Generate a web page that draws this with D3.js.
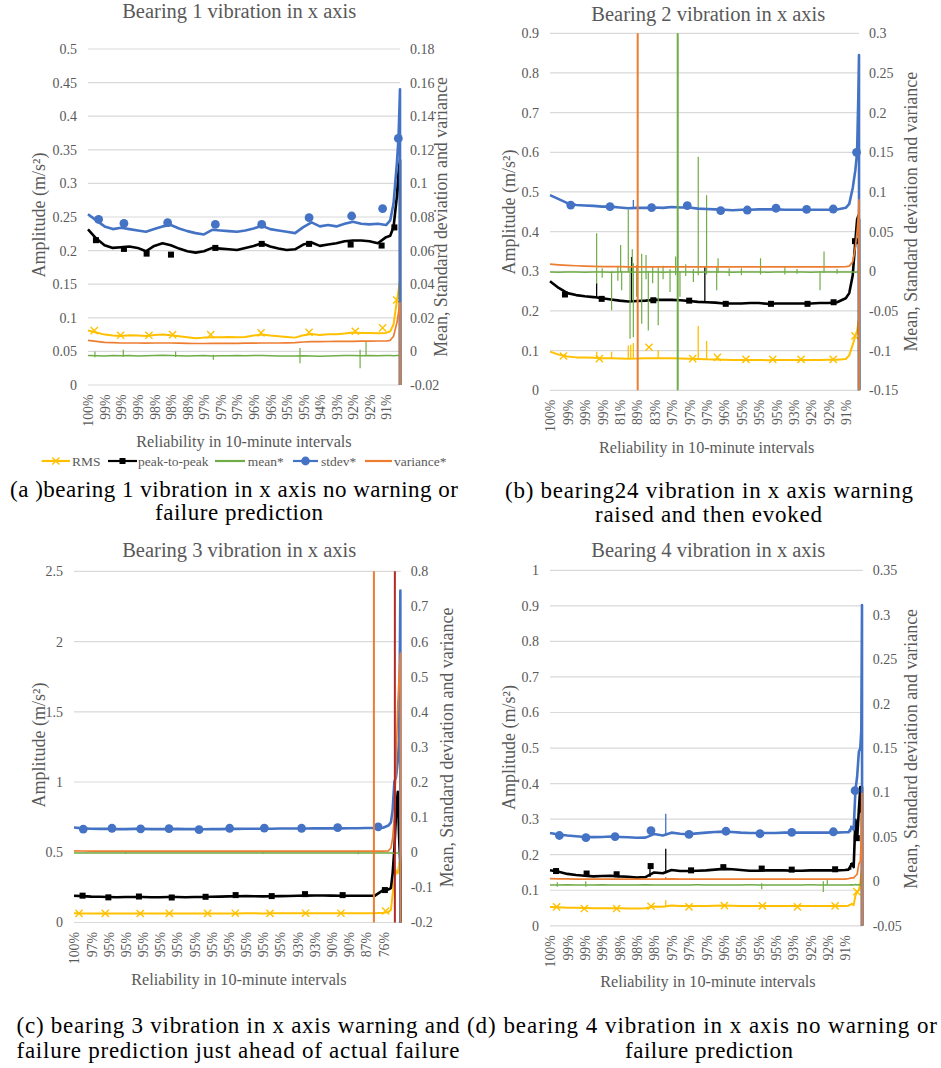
<!DOCTYPE html>
<html><head><meta charset="utf-8">
<script src="https://cdn.jsdelivr.net/npm/d3@7"></script>
<style>html,body{margin:0;padding:0;background:#fff;}svg{display:block;}svg text{font-family:'Liberation Serif','Times New Roman',Times,serif;}</style>
</head><body>
<script>
// ---------------- DATA ----------------
const seriesNames = ['RMS','peak-to-peak','mean*','stdev*','variance*'];

// Panel A : Bearing 1
const labelsA = ['100%','99%','99%','99%','98%','98%','98%','97%','97%','97%','96%','96%','95%','95%','94%','93%','92%','92%','91%'];
const ticksLeftA = [0,0.05,0.1,0.15,0.2,0.25,0.3,0.35,0.4,0.45,0.5];
const ticksRightA = [-0.02,0,0.02,0.04,0.06,0.08,0.1,0.12,0.14,0.16,0.18];
const xsA = [0,0.5,1,1.5,2,2.5,3,3.5,4,4.5,5,5.5,6,6.5,7,7.5,8,8.5,9,9.5,10,10.5,11,11.5,12,12.5,13,13.5,14,14.5,15,15.5,16,16.5,17,17.5,18,18.25,18.45,18.65,18.75,18.84,18.845];
const rmsA = [0.081,0.078,0.075,0.0735,0.073,0.074,0.0735,0.073,0.0745,0.075,0.074,0.0725,0.071,0.0695,0.0705,0.071,0.071,0.0715,0.071,0.0715,0.0735,0.075,0.0735,0.0725,0.0715,0.0705,0.074,0.076,0.0745,0.0755,0.0755,0.0765,0.078,0.0775,0.0775,0.077,0.0775,0.08,0.09,0.125,0.14,0.155,0];
const p2pA = [0.2315,0.218,0.208,0.204,0.205,0.206,0.204,0.199,0.207,0.211,0.208,0.203,0.199,0.197,0.199,0.204,0.203,0.202,0.201,0.204,0.207,0.211,0.206,0.203,0.201,0.202,0.209,0.212,0.207,0.209,0.211,0.214,0.215,0.215,0.214,0.211,0.22,0.222,0.235,0.28,0.316,0.335,0];
const meanA = [-0.0024,-0.0026,-0.0027,-0.0025,-0.0026,-0.0024,-0.0027,-0.0026,-0.0025,-0.0023,-0.0025,-0.0026,-0.0027,-0.0026,-0.0025,-0.0027,-0.0026,-0.0026,-0.0025,-0.0026,-0.0024,-0.0025,-0.0026,-0.0027,-0.0028,-0.0027,-0.0026,-0.0028,-0.0029,-0.0027,-0.0026,-0.0025,-0.0025,-0.0026,-0.0025,-0.0026,-0.0025,-0.0025,-0.0026,-0.0024,-0.0025,-0.0026,-0.0026];
const stdevA = [0.0816,0.078,0.0744,0.0728,0.0736,0.0728,0.072,0.0712,0.0728,0.0744,0.0752,0.0732,0.0716,0.0704,0.0696,0.0724,0.072,0.0716,0.0712,0.072,0.0732,0.0748,0.0728,0.072,0.0712,0.0704,0.074,0.0768,0.0744,0.0752,0.0744,0.076,0.0772,0.076,0.0756,0.076,0.0752,0.078,0.088,0.112,0.1268,0.156,-0.02];
const varA = [0.0066,0.006,0.0054,0.0052,0.005,0.005,0.005,0.0049,0.005,0.005,0.005,0.0049,0.0048,0.0047,0.0047,0.0048,0.0048,0.0048,0.0048,0.0049,0.0049,0.005,0.005,0.005,0.0051,0.0052,0.0056,0.0058,0.0058,0.0059,0.006,0.006,0.006,0.0061,0.0061,0.0062,0.0062,0.0066,0.009,0.017,0.023,0.029,-0.02];
const rmsMkA = [[0.38,0.081],[1.97,0.074],[3.68,0.074],[5.11,0.075],[7.41,0.075],[10.45,0.0775],[13.35,0.0785],[16.14,0.08],[17.79,0.085],[18.64,0.1265]];
const p2pMkA = [[0.48,0.2155],[2.17,0.2025],[3.54,0.1955],[5.01,0.194],[7.69,0.204],[10.49,0.21],[13.35,0.21],[15.86,0.209],[17.73,0.2075],[18.5,0.2345]];
const stdevMkA = [[0.64,0.0786],[2.17,0.0762],[4.81,0.0766],[7.69,0.0756],[10.49,0.0756],[13.35,0.0796],[15.92,0.0806],[17.79,0.085],[18.74,0.1268]];
const meanSpikesA = [[0.42,-0.0035,0.0],[2.13,-0.0032,0.001],[5.29,-0.0034,-0.0001],[7.57,-0.005,-0.002],[12.8,-0.007,0.002],[16.43,-0.01,0.001],[16.79,-0.0026,0.006]];

// Panel B : Bearing 2
const labelsB = ['100%','99%','99%','99%','81%','89%','83%','97%','97%','97%','96%','95%','95%','95%','93%','92%','92%','91%'];
const ticksLeftB = [0,0.1,0.2,0.3,0.4,0.5,0.6,0.7,0.8,0.9];
const ticksRightB = [-0.15,-0.1,-0.05,0,0.05,0.1,0.15,0.2,0.25,0.3];
const xsB = [0,0.5,1,1.5,2,2.5,3,3.5,4,4.5,5,5.5,6,6.5,7,7.5,8,8.5,9,9.5,10,10.5,11,11.5,12,12.5,13,13.5,14,14.5,15,15.5,16,16.5,17,17.2,17.4,17.55,17.65,17.72,17.76,17.765];
const rmsB = [0.0975,0.09,0.085,0.083,0.0825,0.082,0.081,0.0805,0.08,0.0795,0.08,0.081,0.0805,0.081,0.0805,0.08,0.0795,0.079,0.078,0.0775,0.077,0.0765,0.0765,0.0765,0.0765,0.076,0.0765,0.0765,0.0765,0.0765,0.0765,0.0765,0.077,0.077,0.079,0.088,0.115,0.137,0.15,0.17,0.18,0];
const p2pB = [0.275,0.258,0.245,0.24,0.237,0.235,0.232,0.229,0.226,0.224,0.225,0.226,0.228,0.228,0.228,0.227,0.225,0.223,0.222,0.221,0.219,0.219,0.219,0.22,0.22,0.218,0.219,0.219,0.219,0.219,0.219,0.22,0.22,0.222,0.232,0.245,0.29,0.376,0.43,0.44,0.43,0];
const meanB = [-0.001,-0.0012,-0.0008,-0.001,-0.0011,-0.0009,-0.001,-0.0012,-0.0008,-0.001,-0.0011,-0.0009,-0.001,-0.0012,-0.001,-0.0008,-0.001,-0.0011,-0.001,-0.0009,-0.001,-0.0011,-0.001,-0.0009,-0.001,-0.0011,-0.001,-0.0009,-0.001,-0.001,-0.0011,-0.001,-0.0009,-0.001,-0.001,-0.001,-0.001,-0.0012,-0.001,-0.001,-0.001,-0.15];
const stdevB = [0.096,0.091,0.086,0.0835,0.083,0.0825,0.0815,0.0815,0.0805,0.0795,0.08,0.08,0.0805,0.08,0.081,0.0805,0.0805,0.079,0.0785,0.078,0.0775,0.077,0.0775,0.0775,0.078,0.078,0.078,0.0775,0.0775,0.0775,0.0775,0.0775,0.0775,0.078,0.08,0.085,0.105,0.1275,0.15,0.22,0.2725,-0.15];
const varB = [0.009,0.0082,0.0075,0.007,0.0066,0.0063,0.006,0.006,0.0058,0.0057,0.0057,0.0056,0.0056,0.0056,0.0055,0.0055,0.0055,0.0055,0.0055,0.0055,0.0055,0.0055,0.0055,0.0055,0.0055,0.0055,0.0055,0.0055,0.0055,0.0055,0.0055,0.0055,0.0056,0.0057,0.006,0.0065,0.012,0.03,0.05,0.07,0.09,-0.15];
const rmsMkB = [[0.77,0.0865],[2.84,0.08],[5.69,0.1085],[8.2,0.08],[9.62,0.083],[11.26,0.078],[12.8,0.078],[14.43,0.078],[16.28,0.078],[17.53,0.137]];
const p2pMkB = [[0.86,0.2415],[2.97,0.2305],[5.94,0.227],[8.0,0.226],[10.1,0.218],[12.7,0.218],[14.8,0.218],[16.3,0.222],[17.53,0.376]];
const stdevMkB = [[1.19,0.0835],[3.45,0.0815],[5.84,0.08025],[7.89,0.08275],[9.81,0.0765],[11.34,0.07725],[12.99,0.0795],[14.75,0.078],[16.28,0.0785],[17.62,0.15]];
const rmsSpikesB = [[2.68,0.081,0.0975],[3.54,0.0805,0.097],[4.5,0.0795,0.113],[4.64,0.0795,0.115],[4.79,0.08,0.119],[6.22,0.0805,0.101],[8.52,0.079,0.162],[9.0,0.078,0.124]];
const p2pSpikesB = [[2.68,0.233,0.27],[4.69,0.224,0.336],[8.9,0.222,0.311]];
const stdevSpikesB = [[4.79,0.0795,0.09]];
const meanSpikesB = [[2.68,-0.0155,0.048],[3.0,-0.008,0.004],[3.54,-0.049,0.0],[3.9,-0.012,0.006],[4.06,-0.001,0.033],[4.12,-0.024,0.0],[4.5,-0.001,0.0775],[4.6,-0.085,0.005],[4.73,-0.001,0.0277],[4.79,-0.083,0.01],[4.98,-0.032,0.008],[5.27,-0.066,0.022],[5.52,-0.01,0.0205],[5.65,-0.0745,0.0],[5.9,-0.015,0.006],[6.22,-0.068,0.005],[6.5,-0.01,0.007],[6.9,-0.026,0.003],[7.22,-0.005,0.0185],[7.47,-0.032,0.0],[7.8,-0.006,0.009],[8.24,-0.0135,0.003],[8.52,-0.005,0.1445],[9.0,-0.004,0.096],[9.58,-0.024,0.005],[9.66,-0.002,0.0165],[10.3,-0.006,0.004],[11.0,-0.005,0.004],[12.1,-0.004,0.0165],[13.5,-0.004,0.006],[14.2,-0.003,0.003],[15.52,-0.024,0.0],[15.75,-0.002,0.025],[16.5,-0.003,0.003]];
const eventLinesB = [[5.04,'variance'],[7.34,'mean']];

// Panel C : Bearing 3
const labelsC = ['100%','97%','95%','95%','95%','95%','95%','95%','95%','95%','95%','95%','95%','93%','93%','90%','90%','87%','76%'];
const ticksLeftC = [0,0.5,1,1.5,2,2.5];
const ticksRightC = [-0.2,-0.1,0,0.1,0.2,0.3,0.4,0.5,0.6,0.7,0.8];
const xsC = [0,0.5,1,1.5,2,2.5,3,3.5,4,4.5,5,5.5,6,6.5,7,7.5,8,8.5,9,9.5,10,10.5,11,11.5,12,12.5,13,13.5,14,14.5,15,15.5,16,16.5,17,17.5,18,18.3,18.45,18.55,18.65,18.75,18.85,18.93,19.0,19.005];
const rmsC = [0.065,0.064,0.064,0.0635,0.064,0.064,0.0635,0.064,0.064,0.0635,0.064,0.064,0.0635,0.064,0.064,0.064,0.0645,0.0645,0.064,0.0645,0.065,0.065,0.0645,0.065,0.065,0.065,0.0655,0.0655,0.065,0.0655,0.066,0.066,0.066,0.066,0.066,0.066,0.07,0.075,0.09,0.2,0.3,0.37,0.35,0.42,0.45,0];
const p2pC = [0.19,0.188,0.184,0.183,0.181,0.18,0.181,0.182,0.181,0.18,0.18,0.181,0.181,0.18,0.181,0.182,0.183,0.184,0.186,0.187,0.188,0.187,0.186,0.187,0.188,0.189,0.19,0.191,0.192,0.192,0.191,0.19,0.19,0.19,0.19,0.19,0.23,0.235,0.245,0.35,0.52,0.78,0.93,0.6,0.4,0];
const meanC = [-0.002,-0.0022,-0.0019,-0.002,-0.0021,-0.002,-0.0018,-0.002,-0.0022,-0.002,-0.0021,-0.0019,-0.002,-0.0021,-0.002,-0.0022,-0.002,-0.0019,-0.002,-0.0021,-0.002,-0.0022,-0.002,-0.0019,-0.002,-0.0021,-0.002,-0.002,-0.0022,-0.002,-0.0019,-0.002,-0.0021,-0.002,-0.002,-0.0021,-0.002,-0.002,-0.002,-0.003,-0.002,-0.002,-0.002,-0.002,-0.002,-0.2];
const stdevC = [0.0705,0.068,0.067,0.0665,0.0665,0.066,0.066,0.0665,0.0665,0.066,0.066,0.066,0.0665,0.066,0.066,0.0655,0.066,0.066,0.0665,0.0665,0.067,0.067,0.067,0.067,0.0675,0.0675,0.0675,0.0675,0.068,0.068,0.068,0.068,0.0685,0.0685,0.069,0.069,0.07,0.076,0.085,0.12,0.2,0.215,0.26,0.32,0.745,-0.2];
const varC = [0.004,0.0036,0.0034,0.0032,0.0031,0.003,0.003,0.003,0.003,0.003,0.003,0.003,0.003,0.003,0.003,0.003,0.003,0.003,0.003,0.003,0.003,0.003,0.003,0.003,0.003,0.003,0.003,0.003,0.003,0.003,0.003,0.003,0.003,0.003,0.0031,0.0032,0.0034,0.004,0.012,0.04,0.1,0.25,0.42,0.5,0.567,-0.2];
const rmsMkC = [[0.29,0.065],[1.82,0.065],[3.86,0.064],[5.55,0.065],[7.78,0.065],[9.39,0.066],[11.41,0.0655],[13.48,0.066],[15.54,0.066],[18.14,0.082]];
const p2pMkC = [[0.5,0.191],[2.0,0.179],[3.78,0.185],[5.69,0.178],[7.66,0.183],[9.41,0.195],[11.51,0.188],[13.45,0.202],[15.64,0.195],[18.1,0.231]];
const stdevMkC = [[0.54,0.0659],[2.21,0.0683],[3.88,0.0667],[5.53,0.0675],[7.28,0.0643],[9.06,0.0683],[11.08,0.069],[13.25,0.0683],[15.35,0.07],[17.71,0.072]];
const meanSpikesC = [[3.0,-0.004,0.0],[11.0,-0.004,0.0],[16.55,-0.006,0.004]];
const eventLinesC = [[17.46,'variance'],[18.68,'failure']];

// Panel D : Bearing 4
const labelsD = ['100%','99%','99%','99%','98%','98%','98%','97%','97%','97%','96%','95%','95%','95%','93%','92%','92%','91%'];
const ticksLeftD = [0,0.1,0.2,0.3,0.4,0.5,0.6,0.7,0.8,0.9,1];
const ticksRightD = [-0.05,0,0.05,0.1,0.15,0.2,0.25,0.3,0.35];
const xsD = [0,0.5,1,1.5,2,2.5,3,3.5,4,4.5,5,5.5,6,6.5,7,7.5,8,8.5,9,9.5,10,10.5,11,11.5,12,12.5,13,13.5,14,14.5,15,15.5,16,16.5,17,17.2,17.4,17.5,17.6,17.7,17.8,17.88,17.94,17.98,17.985];
const rmsD = [0.053,0.052,0.051,0.0505,0.05,0.0495,0.0495,0.0495,0.0495,0.049,0.049,0.0495,0.054,0.0535,0.057,0.0555,0.0555,0.0555,0.056,0.0565,0.057,0.0565,0.056,0.0555,0.0555,0.0555,0.0555,0.0555,0.0555,0.0555,0.0555,0.0555,0.056,0.056,0.056,0.0565,0.062,0.058,0.085,0.096,0.1,0.12,0.148,0.16,0];
const p2pD = [0.156,0.152,0.146,0.143,0.141,0.139,0.14,0.141,0.139,0.138,0.1355,0.137,0.15,0.148,0.157,0.154,0.154,0.155,0.156,0.158,0.16,0.159,0.157,0.155,0.155,0.156,0.156,0.156,0.155,0.155,0.156,0.156,0.156,0.156,0.157,0.158,0.175,0.165,0.298,0.2465,0.327,0.39,0.32,0.39,0];
const meanD = [-0.004,-0.0042,-0.0039,-0.004,-0.0041,-0.004,-0.0038,-0.004,-0.0042,-0.004,-0.0041,-0.0039,-0.004,-0.0041,-0.004,-0.0042,-0.004,-0.0039,-0.004,-0.0041,-0.004,-0.0042,-0.004,-0.0039,-0.004,-0.0041,-0.004,-0.004,-0.0042,-0.004,-0.0039,-0.004,-0.0041,-0.004,-0.004,-0.004,-0.0038,-0.004,-0.0035,-0.004,-0.0035,-0.004,-0.004,-0.004,-0.05];
const stdevD = [0.0544,0.0528,0.0516,0.0508,0.05,0.0498,0.05,0.0504,0.05,0.0496,0.0491,0.0492,0.0532,0.0516,0.0548,0.0536,0.0532,0.054,0.0548,0.0556,0.056,0.0556,0.0548,0.0544,0.0544,0.0544,0.0544,0.0548,0.0548,0.0548,0.0548,0.0548,0.0548,0.0548,0.0552,0.0552,0.0612,0.058,0.102,0.118,0.146,0.15,0.17,0.311,-0.05];
const varD = [0.003,0.0028,0.0027,0.0026,0.0025,0.0025,0.0025,0.0025,0.0025,0.0025,0.0025,0.0025,0.0026,0.0026,0.0028,0.0026,0.0025,0.0025,0.0025,0.0025,0.0025,0.0025,0.0025,0.0025,0.0025,0.0025,0.0025,0.0025,0.0025,0.0025,0.0025,0.0025,0.0025,0.0025,0.0026,0.003,0.004,0.004,0.006,0.008,0.02,0.022,0.05,0.099,-0.05];
const rmsMkD = [[0.38,0.053],[1.98,0.0486],[3.84,0.0486],[5.82,0.055],[8.01,0.053],[10.05,0.057],[12.24,0.056],[14.26,0.053],[16.43,0.056],[17.68,0.096]];
const p2pMkD = [[0.35,0.154],[2.11,0.147],[3.84,0.145],[5.8,0.168],[8.13,0.156],[9.99,0.165],[12.2,0.161],[13.93,0.158],[16.43,0.159],[17.68,0.2465]];
const stdevMkD = [[0.54,0.0516],[2.07,0.0492],[3.75,0.0504],[5.82,0.0572],[8.01,0.0528],[10.14,0.0564],[12.1,0.0536],[13.93,0.0552],[16.33,0.0558],[17.58,0.102]];
const rmsSpikesD = [[6.67,0.052,0.072]];
const p2pSpikesD = [[5.76,0.137,0.168],[6.67,0.148,0.217],[17.33,0.158,0.177]];
const stdevSpikesD = [[6.67,0.0516,0.076],[17.33,0.0552,0.0628]];
const meanSpikesD = [[0.42,-0.006,-0.001],[2.06,-0.006,0.0],[12.2,-0.009,-0.002],[15.75,-0.012,0.0],[15.98,-0.004,0.002]];
const varSpikesD = [[6.67,0.0025,0.005]];

const titles = ['Bearing 1 vibration in x axis','Bearing 2 vibration in x axis','Bearing 3 vibration in x axis','Bearing 4 vibration in x axis'];
const captions = [
  ['(a )bearing 1 vibration in x axis no warning or','failure prediction'],
  ['(b) bearing24 vibration in x axis warning','raised and then evoked'],
  ['(c) bearing 3 vibration in x axis warning and','failure prediction just ahead of actual failure'],
  ['(d) bearing 4 vibration in x axis no warning or','failure prediction']
];

// ---------------- STYLE / LAYOUT ----------------
const W = 941, H = 1068;
const SERIF = "'Liberation Serif','Times New Roman',Times,serif";
const GRAY = '#595959';
const COLORS = {rms:'#FFC000', p2p:'#000000', mean:'#70AD47', stdev:'#4472C4', variance:'#ED7D31', failure:'#B22A25'};
const WIDTHS = {rms:2.0, p2p:2.6, mean:1.5, stdev:2.6, variance:1.7};
const ORDER = ['rms','p2p','mean','stdev','variance'];
const SECONDARY = new Set(['mean','stdev','variance']);

const panels = [
  {id:'A', l:88, r:400, t:49, b:385, xMax:18.84, lDom:[0,0.5], rDom:[-0.02,0.18],
   tL:ticksLeftA, tR:ticksRightA, labels:labelsA, xs:xsA,
   series:{rms:rmsA,p2p:p2pA,mean:meanA,stdev:stdevA,variance:varA},
   marks:{rms:rmsMkA,p2p:p2pMkA,stdev:stdevMkA}, spikes:{mean:meanSpikesA}, events:[],
   title:titles[0], titleX:239.2, titleY:18.4, lTitleX:45, lTitleY:215, rTitleX:447, rTitleY:217,
   xTitleY:447, xTitleX:244, cap:captions[0], capX:[234,239], capY:[497,520], capW:[448,168]},
  {id:'B', l:550, r:859, t:33.3, b:390.3, xMax:17.76, lDom:[0,0.9], rDom:[-0.15,0.3],
   tL:ticksLeftB, tR:ticksRightB, labels:labelsB, xs:xsB,
   series:{rms:rmsB,p2p:p2pB,mean:meanB,stdev:stdevB,variance:varB},
   marks:{rms:rmsMkB,p2p:p2pMkB,stdev:stdevMkB},
   spikes:{rms:rmsSpikesB,p2p:p2pSpikesB,stdev:stdevSpikesB,mean:meanSpikesB}, events:eventLinesB,
   title:titles[1], titleX:708.3, titleY:20.7, lTitleX:515, lTitleY:212, rTitleX:917, rTitleY:211.7,
   xTitleY:452.7, xTitleX:706.7, cap:captions[1], capX:[709,708.5], capY:[497.5,522], capW:[408,227]},
  {id:'C', l:74, r:400.7, t:571.3, b:922.5, xMax:19.02, lDom:[0,2.5], rDom:[-0.2,0.8],
   tL:ticksLeftC, tR:ticksRightC, labels:labelsC, xs:xsC,
   series:{rms:rmsC,p2p:p2pC,mean:meanC,stdev:stdevC,variance:varC},
   marks:{rms:rmsMkC,p2p:p2pMkC,stdev:stdevMkC}, spikes:{mean:meanSpikesC}, events:eventLinesC,
   title:titles[2], titleX:239.2, titleY:557.3, lTitleX:45, lTitleY:745, rTitleX:453, rTitleY:747.5,
   xTitleY:985, xTitleX:239, cap:captions[2], capX:[238,238], capY:[1032.5,1057.5], capW:[443,443]},
  {id:'D', l:550, r:862.7, t:570.3, b:925.8, xMax:18.02, lDom:[0,1], rDom:[-0.05,0.35],
   tL:ticksLeftD, tR:ticksRightD, labels:labelsD, xs:xsD,
   series:{rms:rmsD,p2p:p2pD,mean:meanD,stdev:stdevD,variance:varD},
   marks:{rms:rmsMkD,p2p:p2pMkD,stdev:stdevMkD},
   spikes:{rms:rmsSpikesD,p2p:p2pSpikesD,stdev:stdevSpikesD,mean:meanSpikesD,variance:varSpikesD}, events:[],
   title:titles[3], titleX:708.3, titleY:556.7, lTitleX:515, lTitleY:747.5, rTitleX:917, rTitleY:748.8,
   xTitleY:986.7, xTitleX:708, cap:captions[3], capX:[702,709], capY:[1032.5,1057.5], capW:[470,168]}
];

const svg = d3.select('body').append('svg').attr('width',W).attr('height',H)
  .attr('font-family',SERIF);

const fmt = d => String(+d.toFixed(3));

function drawMarker(sel, kind, cx, cy){
  if(kind==='stdev'){
    sel.append('circle').attr('cx',cx).attr('cy',cy).attr('r',4.4).attr('fill',COLORS.stdev);
  } else if(kind==='p2p'){
    sel.append('rect').attr('x',cx-3).attr('y',cy-3).attr('width',6).attr('height',6).attr('fill','#000');
  } else if(kind==='rms'){
    const s=3.6;
    sel.append('path').attr('d',`M${cx-s},${cy-s}L${cx+s},${cy+s}M${cx-s},${cy+s}L${cx+s},${cy-s}`)
      .attr('stroke',COLORS.rms).attr('stroke-width',1.4).attr('fill','none');
  }
}

function drawPanel(p){
  const g = svg.append('g');
  const x = d3.scaleLinear().domain([0,p.xMax]).range([p.l,p.r]);
  const yL = d3.scaleLinear().domain(p.lDom).range([p.b,p.t]);
  const yR = d3.scaleLinear().domain(p.rDom).range([p.b,p.t]);

  g.append('text').attr('x',p.titleX).attr('y',p.titleY).attr('text-anchor','middle')
    .attr('font-size',20.5).attr('fill',GRAY).text(p.title);

  g.append('g').selectAll('line').data(p.tL).join('line')
    .attr('x1',p.l).attr('x2',p.r).attr('y1',d=>yL(d)).attr('y2',d=>yL(d))
    .attr('stroke','#d9d9d9').attr('stroke-width',1.2);

  const axL = g.append('g').attr('transform',`translate(${p.l},0)`)
    .call(d3.axisLeft(yL).tickValues(p.tL).tickSize(0).tickPadding(11).tickFormat(fmt));
  axL.select('.domain').remove();
  axL.attr('font-family',SERIF);
  axL.selectAll('text').attr('font-family',SERIF).attr('font-size',14).attr('fill',GRAY);

  const axR = g.append('g').attr('transform',`translate(${p.r},0)`)
    .call(d3.axisRight(yR).tickValues(p.tR).tickSize(0).tickPadding(10).tickFormat(fmt));
  axR.select('.domain').remove();
  axR.attr('font-family',SERIF);
  axR.selectAll('text').attr('font-family',SERIF).attr('font-size',14).attr('fill',GRAY);

  const axB = g.append('g').attr('transform',`translate(0,${p.b})`)
    .call(d3.axisBottom(x).tickValues(d3.range(p.labels.length)).tickSize(0).tickFormat(i=>p.labels[i]));
  axB.select('.domain').remove();
  axB.attr('font-family',SERIF);
  axB.selectAll('text').attr('font-family',SERIF).attr('font-size',13.8).attr('fill',GRAY)
    .attr('transform','rotate(-90)').attr('text-anchor','end').attr('x',-9.5).attr('y',0).attr('dy','0.35em');

  g.append('text').attr('transform',`translate(${p.lTitleX},${p.lTitleY}) rotate(-90)`)
    .attr('text-anchor','middle').attr('font-size',18).attr('fill',GRAY).text('Amplitude (m/s²)');
  g.append('text').attr('transform',`translate(${p.rTitleX},${p.rTitleY}) rotate(-90)`)
    .attr('text-anchor','middle').attr('font-size',17.9).attr('fill',GRAY).text('Mean, Standard deviation and variance');
  g.append('text').attr('x',p.xTitleX).attr('y',p.xTitleY).attr('text-anchor','middle')
    .attr('font-size',16.2).attr('fill',GRAY).text('Reliability in 10-minute intervals');

  const cid = 'clip'+p.id;
  g.append('clipPath').attr('id',cid).append('rect')
    .attr('x',p.l-2).attr('y',p.t-1).attr('width',p.r-p.l+5).attr('height',p.b-p.t+1.5);
  const plot = g.append('g').attr('clip-path',`url(#${cid})`);

  ORDER.forEach(k=>{
    const y = SECONDARY.has(k) ? yR : yL;
    const vals = p.series[k];
    const pts = p.xs.map((u,i)=>[u, vals[i]]).filter(d=>d[1]!==undefined);
    plot.append('path').datum(pts)
      .attr('d', d3.line().x(d=>x(d[0])).y(d=>y(d[1])))
      .attr('fill','none').attr('stroke',COLORS[k]).attr('stroke-width',WIDTHS[k])
      .attr('stroke-linejoin','round');
    const sp = (p.spikes[k]||[]);
    plot.append('g').selectAll('line').data(sp).join('line')
      .attr('x1',d=>x(d[0])).attr('x2',d=>x(d[0]))
      .attr('y1',d=>y(d[1])).attr('y2',d=>y(d[2]))
      .attr('stroke',COLORS[k]).attr('stroke-width', k==='mean'?1.2:1.3);
    (p.marks[k]||[]).forEach(m=>drawMarker(plot, k, x(m[0]), y(m[1])));
  });

  g.append('g').selectAll('line').data(p.events).join('line')
    .attr('x1',d=>x(d[0])).attr('x2',d=>x(d[0])).attr('y1',p.t).attr('y2',p.b)
    .attr('stroke',d=>COLORS[d[1]]).attr('stroke-width',2);

  p.cap.forEach((c,i)=>{
    g.append('text').attr('x',p.capX[i]).attr('y',p.capY[i]).attr('text-anchor','middle')
      .attr('font-size',23).attr('fill','#000')
      .attr('textLength',p.capW[i]).attr('lengthAdjust','spacing').text(c);
  });
}

panels.forEach(drawPanel);

const legendItems = [
  {k:'rms', x1:41.7, x2:70, tx:72},
  {k:'p2p', x1:108, x2:137, tx:138},
  {k:'mean', x1:215, x2:245, tx:247.7},
  {k:'stdev', x1:293, x2:318, tx:321},
  {k:'variance', x1:365, x2:392, tx:394}
];
const lg = svg.append('g');
const LY = 461;
legendItems.forEach((it,i)=>{
  lg.append('line').attr('x1',it.x1).attr('x2',it.x2).attr('y1',LY).attr('y2',LY)
    .attr('stroke',COLORS[it.k]).attr('stroke-width',2.2);
  drawMarker(lg, it.k, (it.x1+it.x2)/2, LY);
  lg.append('text').attr('x',it.tx).attr('y',LY).attr('dy','0.35em')
    .attr('font-size',13.5).attr('fill',GRAY).text(seriesNames[i]);
});
</script>
</body></html>
